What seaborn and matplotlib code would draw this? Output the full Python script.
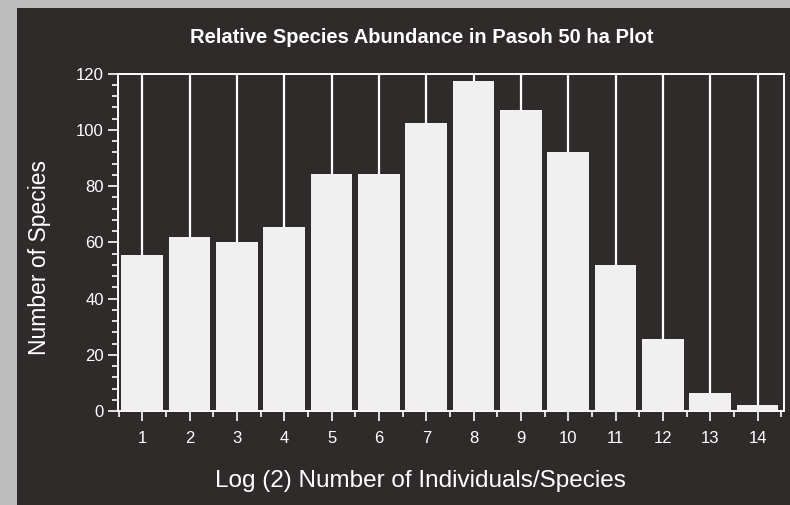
import pandas as pd
import numpy as np
import matplotlib.pyplot as plt
import seaborn as sns
from matplotlib.ticker import MultipleLocator
from matplotlib.patches import Rectangle

# data
classes = ["1", "2", "3", "4", "5", "6", "7", "8", "9", "10", "11", "12", "13", "14"]
species = [55.5, 62, 60, 65.5, 84.5, 84.5, 102.5, 117.5, 107, 92, 52, 25.5, 6.5, 2]

df = pd.DataFrame({"log2_class": classes, "n_species": species})

dark = "#2f2b2b"
light = "#f0f0f0"

sns.set_style("dark")
plt.rcParams["font.family"] = ["Liberation Sans", "DejaVu Sans"]

fig = plt.figure(figsize=(7.9, 5.05), dpi=100)
fig.patch.set_facecolor("#bdbdbd")
# dark scanned page area
fig.patches.append(Rectangle((0.022, 0), 0.978, 0.985, transform=fig.transFigure,
                             facecolor=dark, edgecolor="none", zorder=-5))
ax = fig.add_axes([0.149, 0.186, 0.843, 0.668])
ax.set_zorder(2)
ax.set_facecolor(dark)

sns.barplot(data=df, x="log2_class", y="n_species", color=light, width=0.88,
            saturation=1, edgecolor="none", ax=ax, zorder=3)

ax.set_xlim(-0.52, 13.55)
ax.set_ylim(0, 120)
ax.yaxis.set_major_locator(MultipleLocator(20))
ax.yaxis.set_minor_locator(MultipleLocator(4))
ax.xaxis.set_minor_locator(MultipleLocator(0.5))

# white vertical lines at each class, behind the bars
ax.grid(axis="x", which="major", color="white", linewidth=1.6, zorder=1)
ax.grid(axis="y", visible=False)
ax.set_axisbelow(True)

for side in ["left", "right", "top", "bottom"]:
    ax.spines[side].set_visible(True)
    ax.spines[side].set_color("white")
    ax.spines[side].set_linewidth(1.4)

ax.tick_params(axis="both", which="both", direction="out", colors="white",
               left=True, bottom=True, width=1.2)
ax.tick_params(axis="both", which="major", length=7, labelsize=12)
ax.tick_params(axis="both", which="minor", length=4)
ax.tick_params(axis="y", which="major", pad=3)
ax.tick_params(axis="x", which="major", pad=7)

ax.set_title("Relative Species Abundance in Pasoh 50 ha Plot", color="white",
             fontsize=14.5, fontweight="bold", x=0.457, pad=22)
ax.set_xlabel("Log (2) Number of Individuals/Species", color="white", fontsize=17.5)
ax.xaxis.set_label_coords(0.455, -0.175)
ax.set_ylabel("Number of Species", color="white", fontsize=16.5)
ax.yaxis.set_label_coords(-0.1, 0.455)

plt.savefig("out.png", dpi=100, facecolor=fig.get_facecolor())
